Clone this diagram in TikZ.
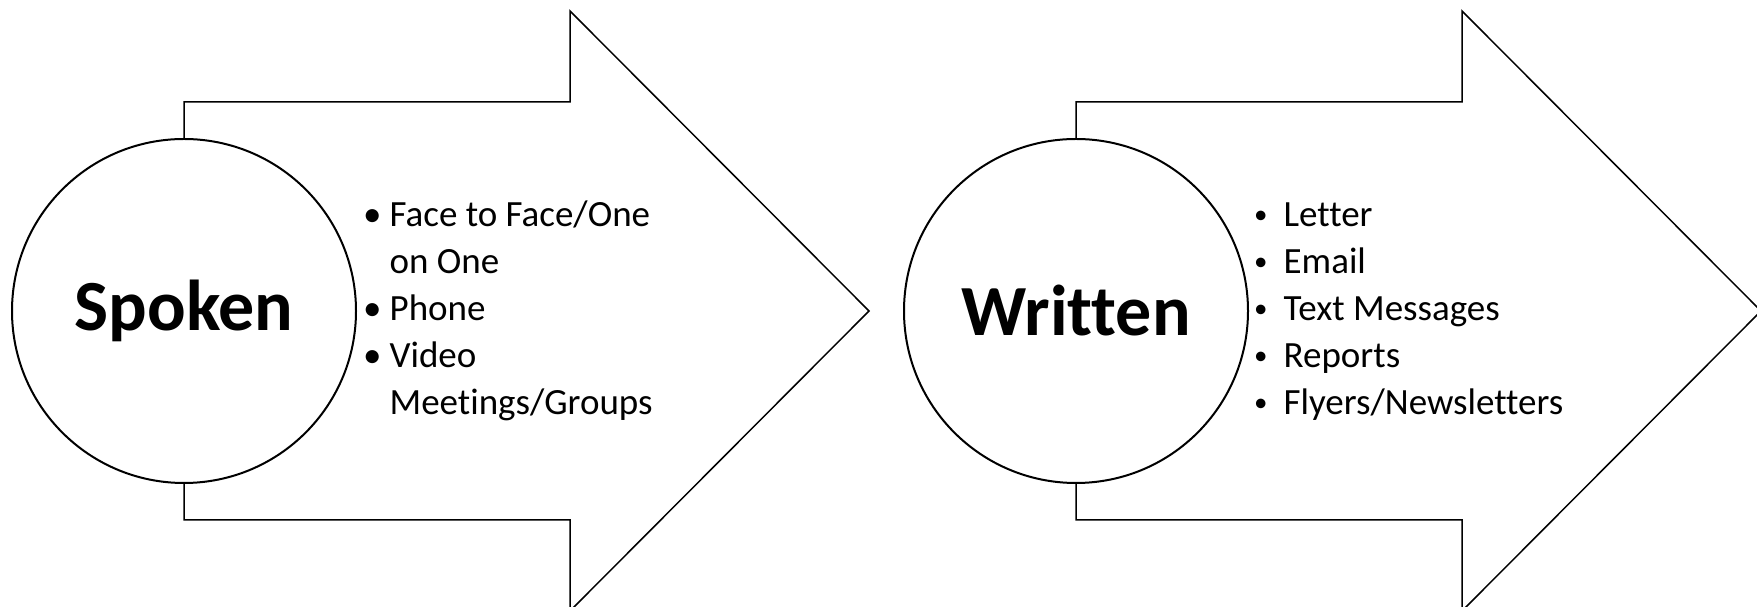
\documentclass[tikz,border=0pt]{standalone}
\usepackage{fontspec}
\setmainfont{Carlito}[Ligatures=NoCommon]
\usetikzlibrary{positioning, calc}

\begin{document}
\begin{tikzpicture}[
        x=1pt, y=1pt,
        outline/.style={draw=black, line width=1.5pt, fill=white, line join=miter},
        hub/.style={circle, draw=black, line width=2pt, fill=white, minimum size=344pt, inner sep=0pt, font=\fontsize{72}{86}\selectfont\bfseries},
        items/.style={inner sep=0pt, align=left, font=\fontsize{37}{47}\selectfont}
    ]
        \useasboundingbox (0,0) rectangle (1757,607);
        \coordinate (spokenc) at (184,296);
        \coordinate (writtenc) at (1076,296);

        % block arrows behind the circles
        \draw[outline] (spokenc) +(0,209) -- +(386,209) -- +(386,300) -- +(685,0) -- +(386,-300) -- +(386,-209) -- +(0,-209) -- cycle;
        \draw[outline] (writtenc) +(0,209) -- +(386,209) -- +(386,300) -- +(685,0) -- +(386,-300) -- +(386,-209) -- +(0,-209) -- cycle;

        \node[hub] (spoken) at (spokenc) {Spoken};
        \node[hub] (written) at (writtenc) {Written};

        \node[items, right=6pt of spoken] (spokenlist) {%
            \begin{tabular}{@{}l@{\hspace{8pt}}l@{}}
                \textbullet & Face to Face/One\\
                            & on One\\
                \textbullet & Phone\\
                \textbullet & Video\\
                            & Meetings/Groups
            \end{tabular}};
        \node[items, right=5pt of written] (writtenlist) {%
            \newcommand{\smallbul}{\raisebox{2.5pt}{\fontsize{27}{47}\selectfont\textbullet}}%
            \begin{tabular}{@{}l@{\hspace{16pt}}l@{}}
                \smallbul & Letter\\
                \smallbul & Email\\
                \smallbul & Text Messages\\
                \smallbul & Reports\\
                \smallbul & Flyers/Newsletters
            \end{tabular}};
    \end{tikzpicture}
\end{document}
